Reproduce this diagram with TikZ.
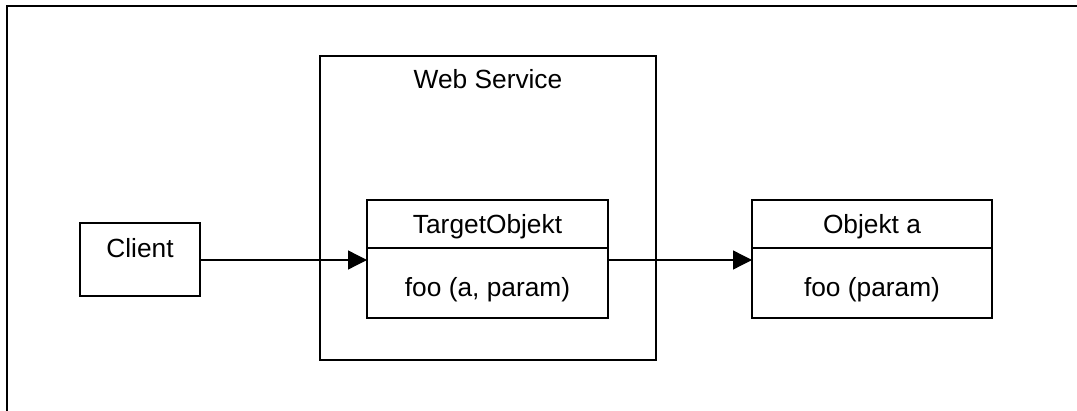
\documentclass[tikz,border=0pt]{standalone}
\usepackage{fontspec}
\setmainfont{Liberation Sans}
\usetikzlibrary{arrows.meta}
\begin{document}
\begin{tikzpicture}[x=1pt,y=-1pt,
  box/.style={draw=black, line width=1.3pt, rectangle, inner sep=0pt, outer sep=0pt},
  lbl/.style={anchor=base, inner sep=0pt, font=\fontsize{26.3}{30}\selectfont},
  arr/.style={line width=1.3pt, -{Triangle[length=19pt,width=19pt]}},
  frame/.style={line width=2pt, line cap=rect}]
\useasboundingbox (0,0) rectangle (1077,411);
% outer frame (top and left only)
\coordinate (fb) at (7,412);
\coordinate (fc) at (7,6);
\coordinate (fr) at (1078,6);
\draw[frame] (fb) -- (fc) -- (fr);
% boxes
\node[box, minimum width=120pt, minimum height=73pt] (client) at (140,259.5) {};
\node[box, minimum width=336pt, minimum height=304pt] (ws) at (488,208) {};
\node[box, minimum width=241pt, minimum height=48pt] (tgtH) at (487.5,224) {};
\node[box, minimum width=241pt, minimum height=70pt] (tgtB) at (487.5,283) {};
\node[box, minimum width=240pt, minimum height=48pt] (objH) at (872,224) {};
\node[box, minimum width=240pt, minimum height=70pt] (objB) at (872,283) {};
% labels
\node[lbl] (tclient) at (140,258) {Client};
\node[lbl] (tws) at (488,89) {Web Service};
\node[lbl] (ttgtH) at (487.5,233.5) {TargetObjekt};
\node[lbl] (ttgtB) at (487.5,297) {foo (a, param)};
\node[lbl] (tobjH) at (872,233.5) {Objekt a};
\node[lbl] (tobjB) at (872,297) {foo (param)};
% connectors
\coordinate (ay) at (0,260);
\draw[arr] (client.east |- ay) -- (tgtB.west |- ay);
\draw[arr] (tgtB.east |- ay) -- (objB.west |- ay);
\end{tikzpicture}
\end{document}
